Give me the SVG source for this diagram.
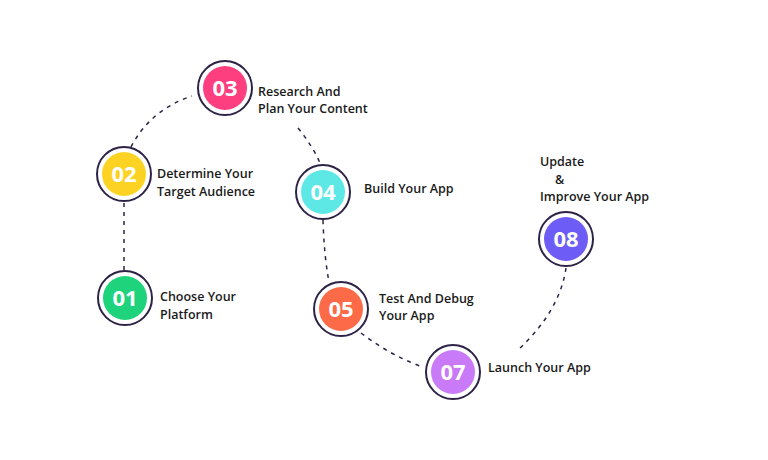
<svg xmlns="http://www.w3.org/2000/svg" width="768" height="460" viewBox="0 0 768 460">
<style>
.ring{fill:#fff;stroke:#2d2347;stroke-width:2}
.num{font-family:"Open Sans","DejaVu Sans",sans-serif;font-weight:bold;font-size:22px;fill:#fff;text-anchor:middle}
.lbl{font-family:"Open Sans","DejaVu Sans",sans-serif;font-size:12.5px;font-weight:600;fill:#1a1a1a}
.con path{fill:none;stroke:#2d2347;stroke-width:1.5;stroke-dasharray:4 5}
</style>
<rect width="768" height="460" fill="#fff"/>
<g class="con">
<path d="M124 203 L124 270"/>
<path d="M131 147 Q150 110 192 96"/>
<path d="M298 128 Q312 145 320 163"/>
<path d="M323 220 Q324 255 329 282"/>
<path d="M361 333 Q390 355 420 366"/>
<path d="M520 348 Q560 310 566 268"/>
</g>
<g id="n01"><circle class="ring" cx="125" cy="298" r="27"/><circle cx="125" cy="298" r="22" fill="#1ed37c"/><text class="num" x="125" y="306">01</text><text class="lbl" x="160" y="301">Choose Your</text><text class="lbl" x="160" y="319">Platform</text></g>
<g id="n02"><circle class="ring" cx="124" cy="174" r="27"/><circle cx="124" cy="174" r="22" fill="#fdd323"/><text class="num" x="124" y="182">02</text><text class="lbl" x="157" y="178">Determine Your</text><text class="lbl" x="157" y="196">Target Audience</text></g>
<g id="n03"><circle class="ring" cx="225" cy="88" r="27"/><circle cx="225" cy="88" r="22" fill="#fd3f7f"/><text class="num" x="225" y="96">03</text><text class="lbl" x="258" y="96">Research And</text><text class="lbl" x="258" y="113">Plan Your Content</text></g>
<g id="n04"><circle class="ring" cx="323" cy="192" r="27"/><circle cx="323" cy="192" r="22" fill="#5de8e5"/><text class="num" x="323" y="200">04</text><text class="lbl" x="364" y="193">Build Your App</text></g>
<g id="n05"><circle class="ring" cx="341" cy="309" r="27"/><circle cx="341" cy="309" r="22" fill="#fd6a48"/><text class="num" x="341" y="317">05</text><text class="lbl" x="379" y="303">Test And Debug</text><text class="lbl" x="379" y="320">Your App</text></g>
<g id="n07"><circle class="ring" cx="453" cy="372" r="27"/><circle cx="453" cy="372" r="22" fill="#c97af6"/><text class="num" x="453" y="380">07</text><text class="lbl" x="488" y="372">Launch Your App</text></g>
<g id="n08"><circle class="ring" cx="566" cy="239" r="27"/><circle cx="566" cy="239" r="22" fill="#6d5cf5"/><text class="num" x="566" y="247">08</text><text class="lbl" x="540" y="166">Update</text><text class="lbl" x="555" y="184">&amp;</text><text class="lbl" x="540" y="201">Improve Your App</text></g>
</svg>
